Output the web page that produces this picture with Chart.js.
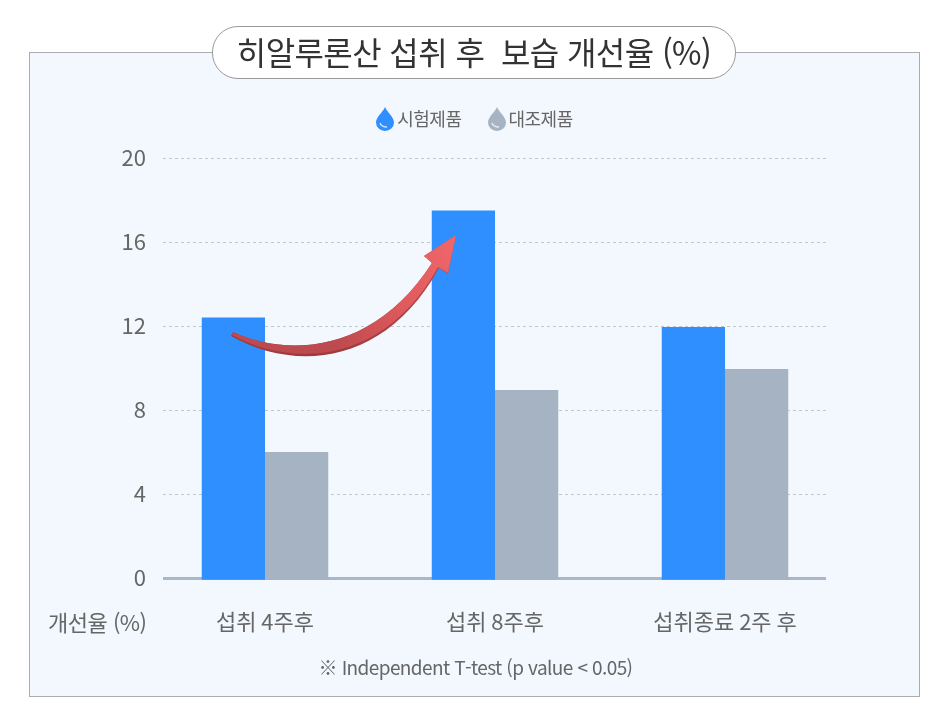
<!DOCTYPE html>
<html lang="ko">
<head>
<meta charset="utf-8">
<title>히알루론산 섭취 후 보습 개선율 (%)</title>
<script src="https://cdn.jsdelivr.net/npm/chart.js@4/dist/chart.umd.min.js"></script>
<style>
  html, body { margin: 0; background: #fff; }
  #wrap { position: relative; width: 946px; height: 715px; overflow: hidden; font-family: "Noto Sans CJK KR", sans-serif; color: #666; }
  #panel { position: absolute; left: 29px; top: 52px; width: 889px; height: 643px; background: #f3f8fe; border: 1px solid #a9adb3; }
  #chart { position: absolute; left: 0; top: 0; }
  #title { position: absolute; left: 212px; top: 26px; width: 522px; height: 51px; line-height: 49px; border: 1px solid #999; border-radius: 26px; background: #fff; text-align: center; font-size: 32px; color: #333; white-space: pre; letter-spacing: -0.6px; }
  #legend { position: absolute; left: 0; top: 105px; width: 946px; display: flex; justify-content: center; gap: 25px; margin-left: 1px; font-size: 18px; line-height: 26px; letter-spacing: -0.5px; }
  #legend span { display: flex; align-items: center; gap: 2px; }
  #unit, #note { position: absolute; white-space: nowrap; }
  #unit { left: 48px; top: 606px; font-size: 22px; line-height: 30px; letter-spacing: -0.5px; }
  #note { left: 0; width: 951px; text-align: center; top: 653px; font-size: 19px; line-height: 28px; letter-spacing: -0.6px; }
</style>
</head>
<body>
<div id="wrap">
  <div id="panel"></div>
  <canvas id="chart" width="946" height="715"></canvas>
  <div id="title">히알루론산 섭취 후  보습 개선율 (%)</div>
  <div id="legend"></div>
  <div id="unit">개선율 (%)</div>
  <div id="note">※ Independent T-test (p value &lt; 0.05)</div>
</div>
<script>
const categories = ['섭취 4주후', '섭취 8주후', '섭취종료 2주 후'];
const testValues = [12.4, 17.5, 11.95];
const controlValues = [6, 8.95, 9.95];
const seriesNames = ['시험제품', '대조제품'];
const seriesColors = ['#2f8fff', '#a5b3c3'];
const yTicks = [0, 4, 8, 12, 16, 20];

// Drop icons in the legend
document.getElementById('legend').innerHTML = seriesNames.map((name, i) => `
  <span>
    <svg width="20" height="25" viewBox="0 0 20 25">
      <path d="M10 1 C12 6 19 11 19 16.5 A9 8.5 0 0 1 1 16.5 C1 11 8 6 10 1 Z" fill="${seriesColors[i]}"/>
      <path d="M5 17 C6 20 9 21 12 21" fill="none" stroke="#fff" stroke-opacity="0.75" stroke-width="1.4"/>
    </svg>${name}
  </span>`).join('');

// Dashed grid is shorter than the category band, so it is drawn here
const gridPlugin = {
  id: 'insetGrid',
  beforeDatasetsDraw(chart) {
    const { ctx, chartArea, scales } = chart;
    const left = chartArea.left + 13;
    const right = chartArea.right - 14;
    ctx.save();
    yTicks.forEach(v => {
      const y = Math.round(scales.y.getPixelForValue(v));
      ctx.beginPath();
      if (v === 0) {
        ctx.strokeStyle = '#a9b7c8';
        ctx.lineWidth = 3;
      } else {
        ctx.strokeStyle = '#c4c7ca';
        ctx.lineWidth = 1;
        ctx.setLineDash([3, 3]);
      }
      ctx.moveTo(left, y + 0.5);
      ctx.lineTo(right, y + 0.5);
      ctx.stroke();
      ctx.setLineDash([]);
    });
    ctx.restore();
  }
};

// Red curved arrow, anchored on the first category and the 12 gridline
const arrowPlugin = {
  id: 'riseArrow',
  afterDatasetsDraw(chart) {
    const { ctx, scales } = chart;
    const ox = scales.x.getPixelForValue(0);
    const oy = scales.y.getPixelForValue(12);
    const dark = ctx.createLinearGradient(ox - 34, oy + 20, ox + 190, oy - 90);
    dark.addColorStop(0, '#a03a3e');
    dark.addColorStop(0.5, '#b8474b');
    dark.addColorStop(1, '#d85c60');
    const light = ctx.createLinearGradient(ox - 34, oy + 20, ox + 190, oy - 90);
    light.addColorStop(0, '#bd4a4e');
    light.addColorStop(0.35, '#e25c5f');
    light.addColorStop(0.75, '#f46b6d');
    light.addColorStop(1, '#ff9292');
    ctx.save();
    ctx.translate(ox, oy);
    // outer shape, dark underside
    ctx.fillStyle = dark;
    ctx.beginPath();
    ctx.moveTo(-32, 6);
    ctx.bezierCurveTo(25, 32, 110, 26, 167, -63);
    ctx.lineTo(159, -70);
    ctx.lineTo(191, -91);
    ctx.lineTo(183, -52);
    ctx.lineTo(174, -58);
    ctx.bezierCurveTo(120, 40, 30, 46, -34, 10);
    ctx.closePath();
    ctx.fill();
    // lighter upper part of the body and the head
    ctx.fillStyle = light;
    ctx.beginPath();
    ctx.moveTo(-32, 6);
    ctx.bezierCurveTo(25, 32, 110, 26, 167, -63);
    ctx.lineTo(159, -70);
    ctx.lineTo(191, -91);
    ctx.lineTo(183, -53);
    ctx.lineTo(173, -59);
    ctx.bezierCurveTo(120, 37, 30, 43, -33, 9);
    ctx.closePath();
    ctx.fill();
    ctx.restore();
  }
};

new Chart(document.getElementById('chart').getContext('2d'), {
  type: 'bar',
  data: {
    labels: categories,
    datasets: [
      { label: seriesNames[0], data: testValues, backgroundColor: seriesColors[0], base: -0.08, clip: false },
      { label: seriesNames[1], data: controlValues, backgroundColor: seriesColors[1], base: -0.08, clip: false }
    ]
  },
  options: {
    responsive: false,
    animation: false,
    layout: { padding: { top: 158, right: 106, left: 0, bottom: 0 } },
    plugins: { legend: { display: false }, tooltip: { enabled: false } },
    datasets: { bar: { categoryPercentage: 0.55, barPercentage: 1 } },
    scales: {
      x: {
        grid: { display: false },
        border: { display: false },
        afterFit: scale => { scale.height = 137; },
        ticks: { color: '#666', padding: 22, maxRotation: 0, font: { family: '"Noto Sans CJK KR"', size: 22 } }
      },
      y: {
        min: 0,
        max: 20,
        afterFit: scale => { scale.width = 150; },
        afterBuildTicks: scale => { scale.ticks = yTicks.map(value => ({ value })); },
        grid: { display: false },
        border: { display: false },
        ticks: { color: '#666', padding: -4, font: { family: '"Noto Sans CJK KR"', size: 22 } }
      }
    }
  },
  plugins: [gridPlugin, arrowPlugin]
});
</script>
</body>
</html>
